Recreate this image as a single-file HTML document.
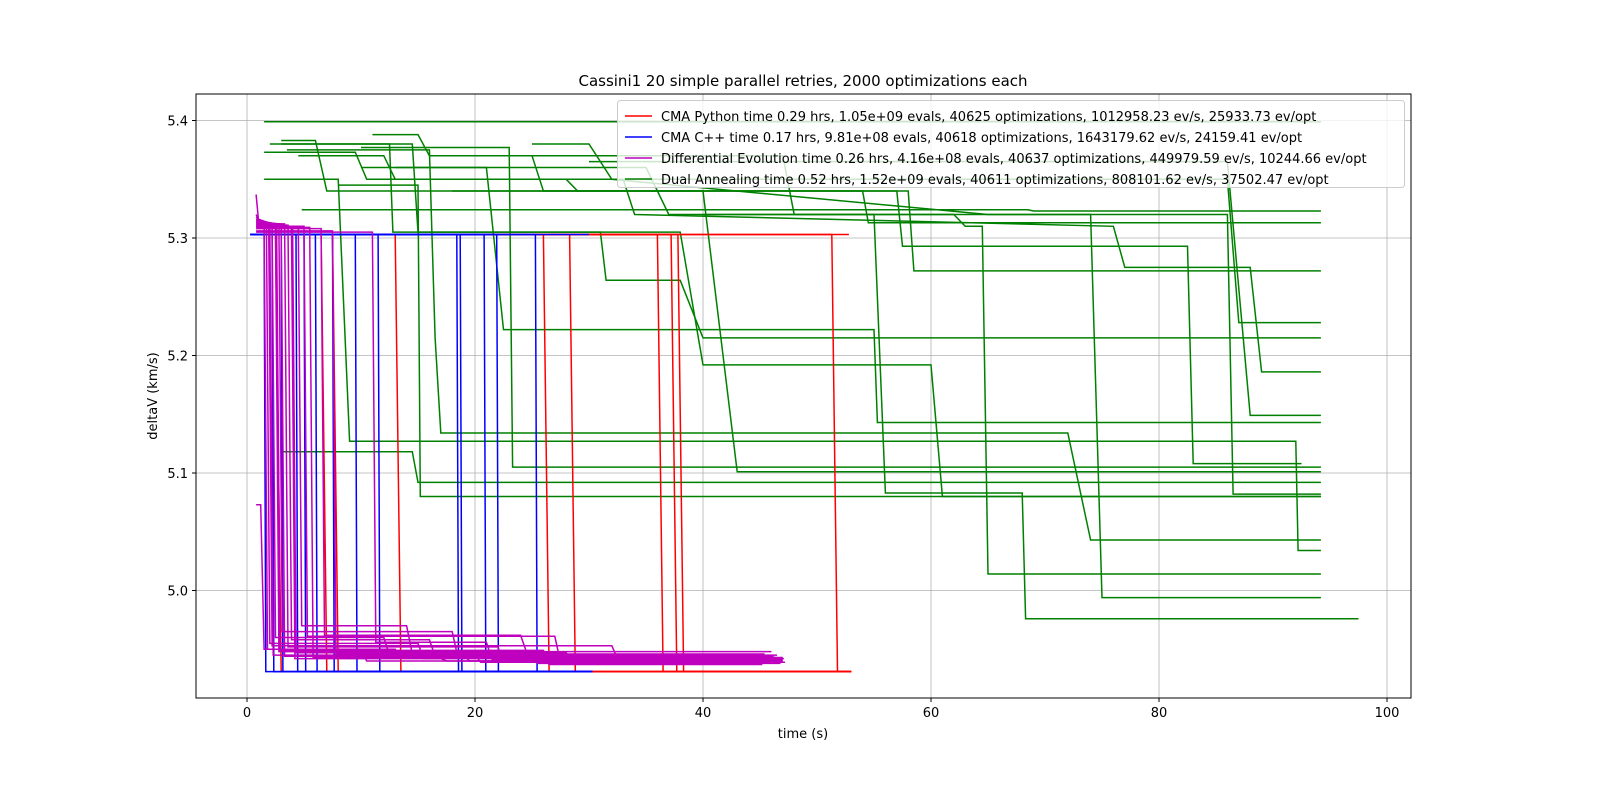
<!DOCTYPE html>
<html><head><meta charset="utf-8"><style>
html,body{margin:0;background:#fff;overflow:hidden}
svg{display:block;font-family:"DejaVu Sans","Liberation Sans",sans-serif}
</style></head><body>
<svg id="chart" width="1600" height="800" xmlns="http://www.w3.org/2000/svg">
<rect width="1600" height="800" fill="#fff"/>
<text x="803" y="86" font-size="15" text-anchor="middle">Cassini1 20 simple parallel retries, 2000 optimizations each</text>
<g id="grid"></g>
<g id="series"></g>
<rect x="196" y="94" width="1215" height="604" fill="none" stroke="#000" stroke-width="1"/>
<g id="axes"></g>
<text x="803" y="738" font-size="13" text-anchor="middle">time (s)</text>
<text transform="translate(157,396) rotate(-90)" font-size="13" text-anchor="middle">deltaV (km/s)</text>
<g id="legend"></g>
</svg>
<script>
const xTicks=[0,20,40,60,80,100];
const yTicks=[5.0,5.1,5.2,5.3,5.4];
const legendLabels=["CMA Python time 0.29 hrs, 1.05e+09 evals, 40625 optimizations, 1012958.23 ev/s, 25933.73 ev/opt",
"CMA C++ time 0.17 hrs, 9.81e+08 evals, 40618 optimizations, 1643179.62 ev/s, 24159.41 ev/opt",
"Differential Evolution time 0.26 hrs, 4.16e+08 evals, 40637 optimizations, 449979.59 ev/s, 10244.66 ev/opt",
"Dual Annealing time 0.52 hrs, 1.52e+09 evals, 40611 optimizations, 808101.62 ev/s, 37502.47 ev/opt"];
const legendColors=["#ff0000","#0000ff","#bf00bf","#008000"];
const cmaPyDrops=[2.5,6.5,7.5,13,26,28.3,36,37.2,37.8,51.3];
const cmaPyHigh=5.303, cmaPyLow=4.931, cmaPyEnd=53;
const cmaCDrops=[1.5,2.2,3,4.3,5,6,7.5,9.5,11.5,18.4,18.7,20.8,21.9,25.3];
const cmaCHigh=5.303, cmaCLow=4.931, cmaCEnd=30.3;
const deDrops=[1.5,1.7,2,2.2,2.5,2.8,3,3.3,3.6,4,4.5,5.5,6.5,7.5,11,1.2,2.6,3.9,1.9,5];
const deStart=[5.337,5.32,5.318,5.316,5.315,5.314,5.313,5.312,5.311,5.31,5.31,5.309,5.308,5.306,5.305,5.073,5.313,5.31,5.315,5.31];
const deLow=[4.95,4.955,4.945,4.96,4.948,4.965,4.944,4.952,4.958,4.947,4.97,4.943,4.962,4.946,4.956,4.95,4.949,4.942,4.953,4.961];
const deFinal=[4.94,4.942,4.939,4.945,4.938,4.943,4.941,4.94,4.944,4.939,4.946,4.938,4.948,4.94,4.941,4.943,4.937,4.94,4.942,4.939];
const deStepT=[10,15,20,12,25,18,30,22,16,28,14,35,24,19,21,13,26,17,32,27];
const deEnd=[47,46,45.5,46.5,45,47,46,45.8,46.2,47.2,45.4,46.8,46,45.6,47,46.4,45.2,46.6,47.1,45.9];
const daTimes=[[1.5,94.2],[4.8,68.5,69,94.2],[3,6,7,54,54.5,94.2],[3,12.5,12.8,31,31.5,38,40,94.2],
[1.5,9.5,10.5,28,29,58,58.5,94.2],[4.5,12,13,86,87,94.2],[2,14.5,15,38,40,60,61,94.2],
[1.5,8,9,92,92.2,94.2],[3.5,16,16.5,17,72,74,94.2],[3,14.5,15,94.2],[8,15,15.2,94.2],
[10,23,23.3,94.2],[10,21,22.5,55,55.3,94.2],[11,15,16,25,26,57,57.5,82.5,83,92.5],
[13,35,37,55,56,68,68.3,97.5],[18,40,43,94.2],[20,47,48,62,63,64.5,65,94.2],
[22,33,34,76,77,88,89,94.2],[25,30,32,65,74,75,94.2],[30,86,88,94.2],[40,86,86.5,94.2]];
const daValues=[[5.399,5.399],[5.324,5.324,5.323,5.323],[5.383,5.383,5.34,5.34,5.313,5.313],[5.38,5.38,5.305,5.305,5.264,5.264,5.215,5.215],
[5.373,5.373,5.35,5.35,5.34,5.34,5.272,5.272],[5.37,5.37,5.35,5.35,5.228,5.228],[5.38,5.38,5.305,5.305,5.192,5.192,5.08,5.08],
[5.35,5.35,5.127,5.127,5.034,5.034],[5.375,5.375,5.215,5.134,5.134,5.043,5.043],[5.118,5.118,5.092,5.092],[5.345,5.345,5.08,5.08],
[5.377,5.377,5.105,5.105],[5.36,5.36,5.222,5.222,5.143,5.143],[5.388,5.388,5.37,5.37,5.34,5.34,5.293,5.293,5.108,5.108],
[5.36,5.36,5.32,5.32,5.083,5.083,4.976,4.976],[5.34,5.34,5.101,5.101],[5.37,5.37,5.32,5.32,5.31,5.31,5.014,5.014],
[5.35,5.35,5.32,5.31,5.275,5.275,5.186,5.186],[5.38,5.38,5.35,5.32,5.32,4.994,4.994],[5.365,5.365,5.149,5.149],[5.32,5.32,5.082,5.082]];

const NS="http://www.w3.org/2000/svg";
const X=t=>247+t*11.4;
const Y=v=>238-(v-5.3)*1175;
function mk(tag,attrs,parent){const e=document.createElementNS(NS,tag);for(const k in attrs)e.setAttribute(k,attrs[k]);parent.appendChild(e);return e;}
const grid=document.getElementById('grid'),axes=document.getElementById('axes'),ser=document.getElementById('series'),leg=document.getElementById('legend');
xTicks.forEach(t=>{
 const l=mk('line',{x1:X(t),x2:X(t),y1:94,y2:698,stroke:'#b0b0b0','stroke-width':0.8},grid);
 
 
 mk('line',{x1:X(t),x2:X(t),y1:698,y2:702,stroke:'#000'},axes);
 const tx=mk('text',{x:X(t),y:717,'font-size':13,'text-anchor':'middle'},axes);tx.textContent=t;
 
 
});
yTicks.forEach(v=>{
 const l=mk('line',{x1:196,x2:1411,y1:Y(v),y2:Y(v),stroke:'#b0b0b0','stroke-width':0.8},grid);
 
 
 mk('line',{x1:192,x2:196,y1:Y(v),y2:Y(v),stroke:'#000'},axes);
 const tx=mk('text',{x:188,y:Y(v)+5,'font-size':13,'text-anchor':'end'},axes);tx.textContent=v.toFixed(1);
 
 
});
function line(pts,color,name){
 const p=mk('polyline',{points:pts.map(q=>X(q[0]).toFixed(1)+','+Y(q[1]).toFixed(1)).join(' '),fill:'none',stroke:color,'stroke-width':1.5},ser);
 
 
}
daTimes.forEach((ts,i)=>line(ts.map((t,j)=>[t,daValues[i][j]]),'#008000','dual-annealing-line'));
cmaPyDrops.forEach(d=>line([[0.5,cmaPyHigh],[d,cmaPyHigh],[d+0.5,cmaPyLow],[cmaPyEnd,cmaPyLow]],'#ff0000','cma-python-line'));
line([[0.5,cmaPyHigh],[52.8,cmaPyHigh]],'#ff0000','cma-python-line');
cmaCDrops.forEach(d=>line([[0.3,cmaCHigh],[d,cmaCHigh],[d+0.15,cmaCLow],[cmaCEnd,cmaCLow]],'#0000ff','cma-cpp-line'));
line([[0.3,cmaCHigh],[30,cmaCHigh]],'#0000ff','cma-cpp-line');
deDrops.forEach((d,i)=>line([[0.8,deStart[i]],[1.0,Math.min(deStart[i],5.316)],[d,Math.min(deStart[i],5.312)],[d+0.3,deLow[i]],[deStepT[i],deLow[i]],[deStepT[i]+0.5,deFinal[i]],[deEnd[i],deFinal[i]]],'#bf00bf','differential-evolution-line'));
const lb=mk('rect',{x:617.5,y:100.5,width:787,height:87,rx:3,fill:'#fff','fill-opacity':0.8,stroke:'#ccc'},leg);


legendLabels.forEach((s,i)=>{
 const y=116+i*21;
 const g=mk('g',{},leg);
 
 
 mk('line',{x1:625,x2:652,y1:y,y2:y,stroke:legendColors[i],'stroke-width':1.5},g);
 const t=mk('text',{x:661,y:y+5,'font-size':13},g);t.textContent=s;
});
</script>
</body></html>
